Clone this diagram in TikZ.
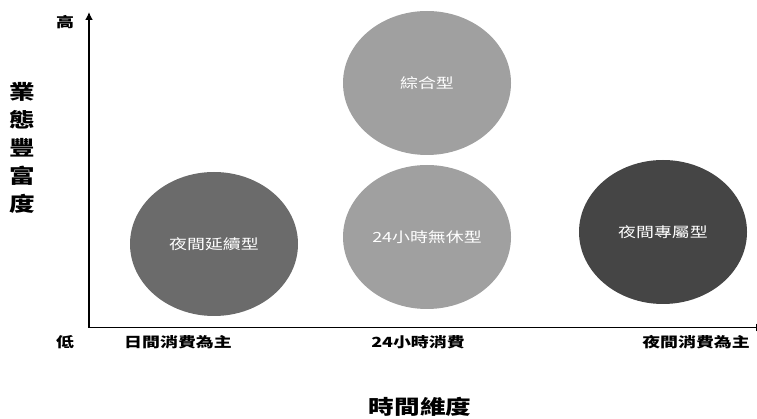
\documentclass[tikz,border=0pt]{standalone}
\usepackage{fontspec}
\setmainfont{Noto Sans CJK TC}[FakeStretch=1.28]
\usepackage{tikz}
\usetikzlibrary{arrows.meta,shapes.geometric}

\definecolor{midgray}{HTML}{6B6B6B}
\definecolor{lightgray}{HTML}{A0A0A0}
\definecolor{darkgray}{HTML}{454545}

\begin{document}
\begin{tikzpicture}[x=1pt,y=-1pt,
    axis/.style={line width=1.8pt, -{Latex[length=8pt,width=8pt]}},
    blob/.style={ellipse, minimum width=168pt, minimum height=144pt, inner sep=0pt, text=white, font=\fontsize{14}{16}\selectfont},
    ticklabel/.style={font=\bfseries\fontsize{14}{16}\selectfont},
    axislabel/.style={font=\bfseries\fontsize{20}{24}\selectfont}]
    \useasboundingbox (0,0) rectangle (757,419);

    % axes

    \coordinate (origin) at (89,327.5);
    \coordinate (ytop) at (89,12);
    \coordinate (xend) at (764,327.5);
    \draw[axis] (origin) -- (ytop);
    \draw[axis] (origin) -- (xend);
    \node[ticklabel] (high) at (65,22) {高};
    \node[ticklabel] (low) at (65,342) {低};
    \node[ticklabel] (day) at (178,342) {日間消費為主};
    \node[ticklabel] (allday) at (418,342) {24小時消費};
    \node[ticklabel] (night) at (696,342) {夜間消費為主};
    \node[axislabel] (timelabel) at (420,407) {時間維度};
    \node[axislabel, align=center, text width=26pt, font=\bfseries\fontsize{20}{28}\selectfont] (richlabel) at (22,148) {業\\態\\豐\\富\\度};

    % store types

    \node[blob, fill=midgray] (extend) at (214,244) {夜間延續型};
    \node[blob, fill=lightgray] (mixed) at (427,83) {綜合型};
    \node[blob, fill=lightgray] (nonstop) at (427,237) {24小時無休型};
    \node[blob, fill=darkgray] (nightonly) at (663,232) {夜間專屬型};

\end{tikzpicture}
\end{document}
